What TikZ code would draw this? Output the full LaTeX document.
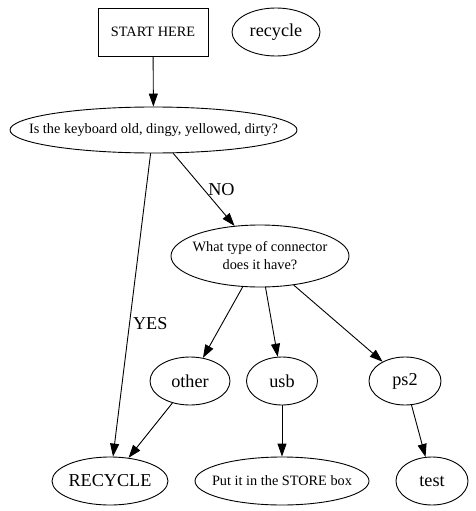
\documentclass[tikz,border=0pt]{standalone}
\usepackage{fontspec}
\setmainfont{Liberation Serif}
\usetikzlibrary{arrows.meta,shapes.geometric}

\begin{document}
\begin{tikzpicture}[x=1pt,y=-1pt,line cap=round,
    every node/.style={inner sep=0pt},
    big/.style={font=\fontsize{18.2}{21}\selectfont},
    small/.style={font=\fontsize{14.3}{18}\selectfont,align=center},
    oval/.style 2 args={draw,ellipse,line width=.9pt,minimum width=#1pt,minimum height=#2pt},
    edge/.style={draw,line width=.9pt,-{Triangle[length=13pt,width=9pt]}},
    lbl/.style={big,right}]
  \useasboundingbox (0,0) rectangle (475,511);

  \node[draw,line width=.9pt,small,minimum width=110pt,minimum height=48pt] (start) at (153,32) {START HERE};
  \node[oval={88}{48},label={[big]center:recycle}] (recycle) at (276,32) {};
  \node[oval={287}{46},label={[small]center:Is the keyboard old, dingy, yellowed, dirty?}] (old) at (153.5,130) {};
  \node[oval={178}{62},label={[small]center:What type of connector\\does it have?}] (type) at (260,256) {};
  \node[oval={80}{48},label={[big]center:other}] (other) at (190,381) {};
  \node[oval={71}{48},label={[big]center:usb}] (usb) at (282,381) {};
  \node[oval={72}{48},label={[big]center:ps2}] (ps2) at (405,381) {};
  \node[oval={116}{48},label={[big]center:RECYCLE}] (RECYCLE) at (110,481) {};
  \node[oval={174}{48},label={[small]center:Put it in the STORE box}] (store) at (282,481) {};
  \node[oval={72}{48},label={[big]center:test}] (test) at (432,481) {};

  \draw[edge] (start) -- (old);
  \draw[edge] (old) -- node[lbl,pos=.56,xshift=3pt] {YES} (RECYCLE);
  \draw[edge] (old) -- node[lbl,pos=.5,xshift=4pt] {NO} (type);
  \draw[edge] (type) -- (other);
  \draw[edge] (type) -- (usb);
  \draw[edge] (type) -- (ps2);
  \draw[edge] (other) -- (RECYCLE);
  \draw[edge] (usb) -- (store);
  \draw[edge] (ps2) -- (test);
\end{tikzpicture}
\end{document}
